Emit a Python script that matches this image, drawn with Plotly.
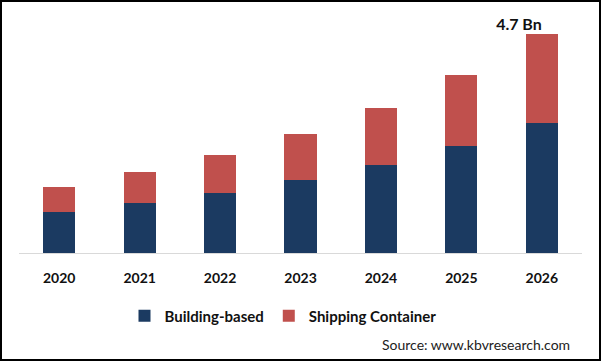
import plotly.graph_objects as go

years = ["2020", "2021", "2022", "2023", "2024", "2025", "2026"]
building_based = [0.88, 1.07, 1.29, 1.57, 1.89, 2.30, 2.79]
shipping_container = [0.54, 0.67, 0.81, 0.99, 1.22, 1.52, 1.91]
total_label = "4.7 Bn"

NAVY = "#1B3A61"
RED = "#C0504D"
FONT = "Lato, 'Liberation Sans', Arial, sans-serif"

W, H = 601, 361
ML, MR, MT, MB = 19, 19, 20, 108
PW, PH = W - ML - MR, H - MT - MB

fig = go.Figure()
fig.add_trace(go.Bar(x=years, y=building_based, name="Building-based",
                     marker=dict(color=NAVY, line=dict(width=0))))
fig.add_trace(go.Bar(x=years, y=shipping_container, name="Shipping Container",
                     marker=dict(color=RED, line=dict(width=0))))

last_total = building_based[-1] + shipping_container[-1]
fig.add_trace(go.Scatter(x=[years[-1]], y=[last_total], mode="text",
                         text=["<b>" + total_label + "</b>"], textposition="top left",
                         textfont=dict(family=FONT, size=16, color="#111111"),
                         showlegend=False, hoverinfo="skip", cliponaxis=False))

fig.add_annotation(xref="paper", yref="paper", x=(572 - ML) / PW, y=(253 - 344) / PH,
                   xanchor="right", yanchor="middle", text="Source: www.kbvresearch.com",
                   showarrow=False, font=dict(family=FONT, size=14, color="#222222"))

# figure border
fig.add_shape(type="rect", xref="paper", yref="paper",
              x0=-(ML - 1) / PW, x1=1 + (MR - 1) / PW,
              y0=-(MB - 1) / PH, y1=1 + (MT - 1) / PH,
              line=dict(color="#000000", width=2), fillcolor="rgba(0,0,0,0)", layer="above")

fig.update_layout(
    width=W, height=H,
    margin=dict(l=ML, r=MR, t=MT, b=MB, pad=0, autoexpand=False),
    barmode="stack", bargap=0.6,
    plot_bgcolor="white", paper_bgcolor="white",
    font=dict(family=FONT, color="#111111"),
    showlegend=True,
    legend=dict(orientation="h", x=(283 - ML) / PW, xanchor="center",
                y=(253 - 316) / PH, yanchor="middle",
                font=dict(family=FONT, size=15, color="#111111", weight="bold"),
                traceorder="normal", itemwidth=30),
    xaxis=dict(type="category", showline=True, linecolor="#D9D9D9", linewidth=1,
               showgrid=False, ticks="", ticklabelstandoff=12, automargin=False,
               tickfont=dict(family=FONT, size=14, color="#111111", weight="bold")),
    yaxis=dict(range=[0, 5.0], visible=False, showgrid=False, zeroline=False,
               automargin=False),
)

fig.write_html("out.html", config={"displayModeBar": False},
               post_script="document.body.style.margin='0';")
